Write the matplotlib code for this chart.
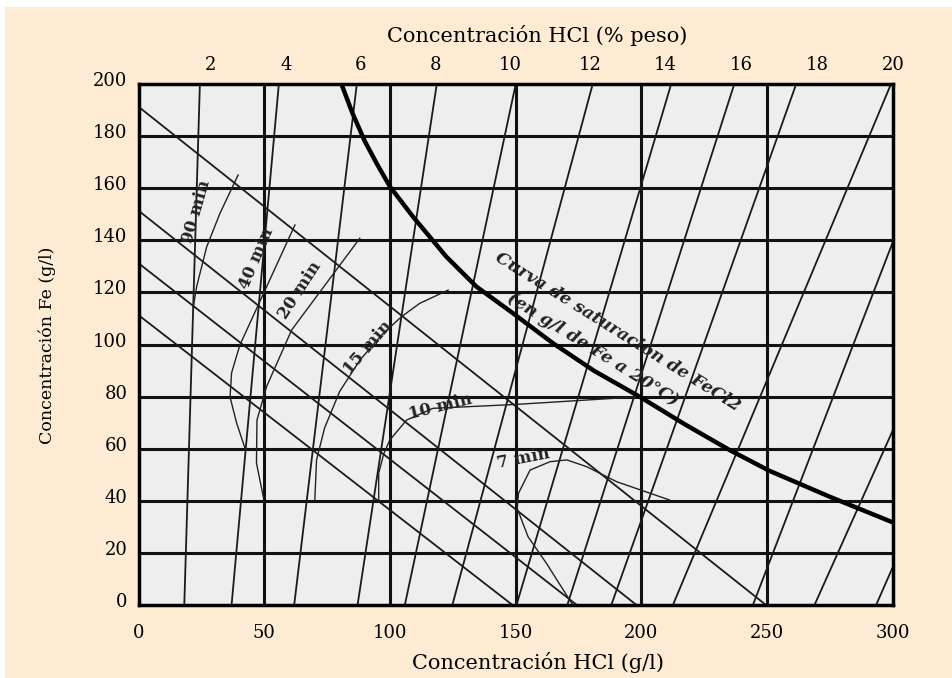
import matplotlib
matplotlib.use("Agg")
import matplotlib.pyplot as plt
from matplotlib.transforms import ScaledTranslation
import numpy as np

plt.rcParams['font.family'] = ['DejaVu Serif']

# ejes
hcl_ticks = [0, 50, 100, 150, 200, 250, 300]
fe_ticks = [0, 20, 40, 60, 80, 100, 120, 140, 160, 180, 200]
pct_labels = ['2', '4', '6', '8', '10', '12', '14', '16', '18', '20']
pct_label_x = [28.8, 58.9, 88.7, 118.5, 148.3, 180.1, 209.9, 240.5, 270.7, 300.9]

# lineas de % peso (x en Fe=200 -> x en Fe=0)
pct_top = [24.4, 55.8, 86.8, 118.6, 150.0, 180.6, 211.8, 236.9, 261.5, 299.2]
pct_bot = [18.2, 37.0, 61.9, 87.1, 105.9, 124.8, 150.3, 170.5, 188.0, 212.5]
# lineas que entran por el borde derecho (Fe en x=300 -> x en Fe=0)
pct_right_fe = [139.5, 67.2, 14.7]
pct_right_bot = [244.3, 268.8, 293.3]

# diagonales (Fe en x=0 -> x en Fe=0)
diag_fe0 = [191.3, 151.4, 131.2, 111.3]
diag_x0 = [249.5, 198.0, 174.3, 148.7]

# curva de saturacion FeCl2
sat_x = [80.7, 85.0, 90.0, 95.0, 100.0, 109.2, 122.4, 134.4, 148.9, 164.8, 181.0,
         199.2, 217.0, 235.0, 250.9, 275.0, 299.2]
sat_fe = [200.0, 189.0, 178.0, 169.0, 160.6, 149.0, 133.7, 122.2, 112.0, 100.5, 90.0,
          80.0, 69.5, 59.5, 51.5, 41.5, 32.0]

# curvas de tiempo de decapado
t90_x = [39.6, 32.4, 27.1, 23.1, 21.8]
t90_fe = [165.1, 150.4, 137.5, 122.2, 114.5]
t40_x = [62.2, 40.3, 37.0, 36.4, 39.0, 42.3]
t40_fe = [145.9, 99.8, 89.1, 79.8, 69.9, 60.3]
t20_x = [88.0, 60.9, 50.9, 47.1, 46.9, 49.6]
t20_fe = [140.8, 105.6, 83.8, 71.0, 54.5, 41.6]
t15_x = [123.1, 111.8, 104.6, 97.0, 88.0, 80.0, 74.0, 70.8, 70.1]
t15_fe = [120.9, 115.8, 110.7, 104.0, 94.0, 82.0, 68.0, 55.7, 40.3]
t10_x = [95.5, 95.5, 97.5, 99.9, 106.6, 117.1, 150.0, 200.0]
t10_fe = [40.3, 50.6, 58.0, 63.3, 71.0, 75.5, 77.0, 80.0]
t7_x = [172.7, 162.2, 154.9, 150.6, 151.1, 155.7, 163.6, 170.3, 178.2, 190.2, 211.2]
t7_fe = [0.0, 16.0, 26.2, 37.0, 42.9, 51.8, 55.0, 55.7, 53.1, 47.3, 40.3]

fig = plt.figure(figsize=(9.52, 6.78), dpi=100, facecolor='white')
fig.patches.append(plt.Rectangle((5 / 952, 0), 1, 1 - 7 / 678, transform=fig.transFigure,
                                 facecolor='#fdebd3', edgecolor='none', zorder=-10))
ax = fig.add_axes([0.1455, 0.1077, 0.7925, 0.7683])
ax.set_facecolor('#eeeeee')
ax.set_xlim(0, 300)
ax.set_ylim(0, 200)

for v in hcl_ticks[1:-1]:
    ax.axvline(v, color='#111111', lw=2.2, zorder=2)
for v in fe_ticks[1:-1]:
    ax.axhline(v, color='#111111', lw=2.2, zorder=2)

for xt, xb in zip(pct_top, pct_bot):
    ax.plot([xt, xb], [200, 0], color='#1a1a1a', lw=1.3, zorder=3)
for fr, xb in zip(pct_right_fe, pct_right_bot):
    ax.plot([300, xb], [fr, 0], color='#1a1a1a', lw=1.3, zorder=3)
for f0, x0 in zip(diag_fe0, diag_x0):
    ax.plot([0, x0], [f0, 0], color='#1a1a1a', lw=1.3, zorder=3)

ax.plot(sat_x, sat_fe, color='black', lw=3.2, zorder=4)
for cx, cy in [(t90_x, t90_fe), (t40_x, t40_fe), (t20_x, t20_fe),
               (t15_x, t15_fe), (t10_x, t10_fe), (t7_x, t7_fe)]:
    ax.plot(cx, cy, color='#222222', lw=1.0, zorder=3)

lab = dict(fontsize=12, fontweight='bold', ha='center', va='center', zorder=5, color='#222222')
ax.text(23.2, 151, '90 min', rotation=74, **lab)
ax.text(47.1, 133.2, '40 min', rotation=67, **lab)
ax.text(64.2, 121, '20 min', rotation=57, **lab)
ax.text(91.2, 98.7, '15 min', rotation=49, **lab)
ax.text(119.9, 76.2, '10 min', rotation=14, **lab)
ax.text(153.2, 56.3, '7 min', rotation=11, **lab)
sat_lab = dict(fontsize=12.5, fontweight='bold', style='italic', ha='center',
               va='center', zorder=5, color='#222222', rotation=-32)
ax.text(190.5, 104.8, 'Curva de saturación de FeCl2', **sat_lab)
ax.text(180.6, 98.2, '(en g/l de Fe a 20°C)', **sat_lab)

for s in ax.spines.values():
    s.set_linewidth(2.5)
    s.set_zorder(6)

ax.set_xticks(hcl_ticks)
ax.set_yticks(fe_ticks)
ax.tick_params(length=0, labelsize=13)
ax.tick_params(axis='x', pad=14)
ax.tick_params(axis='y', pad=8)
for t in ax.get_yticklabels():
    t.set_transform(t.get_transform() + ScaledTranslation(0, 5 / 100, fig.dpi_scale_trans))
ax.set_xlabel('Concentración HCl (g/l)', fontsize=15)
ax.xaxis.set_label_coords(0.529, -0.111)
ax.xaxis.label.set_va('center')
ax.set_ylabel('Concentración Fe (g/l)', fontsize=12.5)
ax.yaxis.set_label_coords(-0.121, 0.499)
ax.yaxis.label.set_va('center')

top = ax.twiny()
top.set_xlim(0, 300)
top.set_xticks(pct_label_x)
top.set_xticklabels(pct_labels)
top.tick_params(length=0, labelsize=13, pad=7)
top.set_xlabel('Concentración HCl (% peso)', fontsize=15)
top.xaxis.set_label_coords(0.529, 1.094)
top.xaxis.label.set_va('center')
for s in top.spines.values():
    s.set_visible(False)

fig.savefig('out.png', dpi=100, facecolor=fig.get_facecolor())
